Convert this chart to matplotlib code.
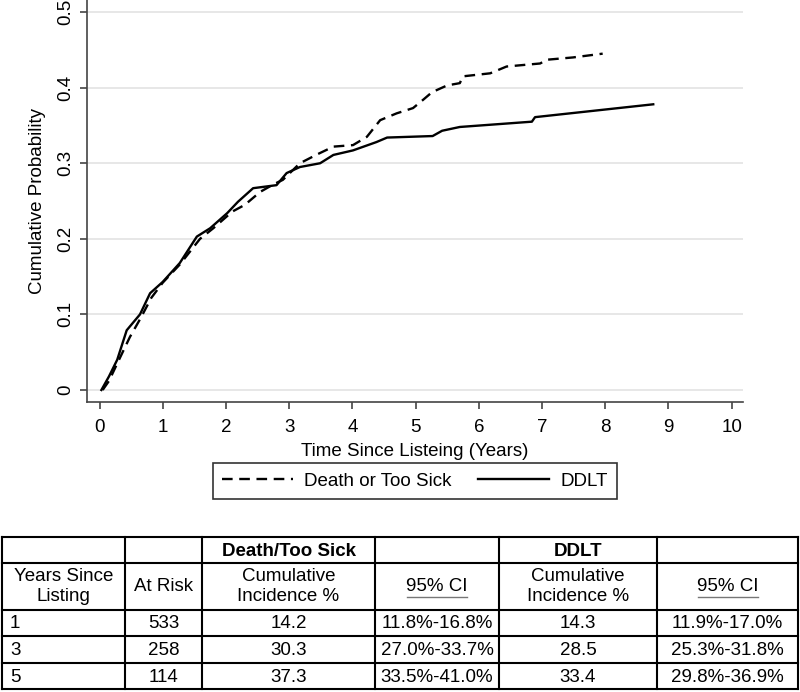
import numpy as np
import matplotlib.pyplot as plt

plt.rcParams['font.family'] = ['Liberation Sans', 'DejaVu Sans']

# cumulative incidence curves
t_death = [0.05, 0.15, 0.28, 0.48, 0.65, 0.82, 1.0, 1.27, 1.59, 1.8, 2.1, 2.3, 2.54, 2.75, 2.9,
           3.17, 3.45, 3.7, 4.01, 4.23, 4.44, 4.7, 4.96, 5.12, 5.26, 5.5, 5.7, 5.75, 6.18, 6.44,
           6.97, 7.08, 7.49, 7.96]
p_death = [0.0, 0.012, 0.035, 0.07, 0.095, 0.122, 0.142, 0.166, 0.2, 0.214, 0.236, 0.245, 0.262,
           0.272, 0.278, 0.3, 0.312, 0.322, 0.324, 0.335, 0.357, 0.366, 0.373, 0.384, 0.394,
           0.403, 0.406, 0.415, 0.419, 0.428, 0.432, 0.437, 0.44, 0.445]

t_ddlt = [0.03, 0.15, 0.28, 0.43, 0.64, 0.8, 1.0, 1.27, 1.54, 1.75, 2.02, 2.19, 2.43, 2.8, 2.96,
          3.17, 3.49, 3.7, 4.01, 4.38, 4.55, 5.27, 5.42, 5.7, 6.84, 6.89, 8.76]
p_ddlt = [0.0, 0.018, 0.04, 0.079, 0.10, 0.128, 0.143, 0.168, 0.203, 0.214, 0.234, 0.249, 0.267,
          0.271, 0.287, 0.295, 0.30, 0.311, 0.317, 0.328, 0.334, 0.336, 0.343, 0.348, 0.355,
          0.361, 0.378]

# table
col_headers1 = ['', '', 'Death/Too Sick', '', 'DDLT', '']
col_headers2 = ['Years Since\nListing', 'At Risk', 'Cumulative\nIncidence %', '95% CI',
                'Cumulative\nIncidence %', '95% CI']
years = ['1', '3', '5']
at_risk = ['533', '258', '114']
death_ci = ['14.2', '30.3', '37.3']
death_ci_range = ['11.8%-16.8%', '27.0%-33.7%', '33.5%-41.0%']
ddlt_ci = ['14.3', '28.5', '33.4']
ddlt_ci_range = ['11.9%-17.0%', '25.3%-31.8%', '29.8%-36.9%']

fs = 13.5

fig = plt.figure(figsize=(8, 6.92), dpi=100)
ax = fig.add_axes([87/800, 1 - 402/692, 656/800, 402/692])

ax.plot(t_death, p_death, color='black', lw=1.7, ls=(0, (4.5, 2.8)), label='Death or Too Sick')
ax.plot(t_ddlt, p_ddlt, color='black', lw=1.7, label='DDLT')

ax.set_xlim(-0.198, 10.18)
ax.set_ylim(-0.0159, 0.516)
ax.set_xticks(range(0, 11))
ax.set_yticks([0, 0.1, 0.2, 0.3, 0.4, 0.5])
ax.set_yticklabels(['0', '0.1', '0.2', '0.3', '0.4', '0.5'], rotation=90, va='center')
ax.yaxis.grid(True, color='#e3e3e3', lw=1.2)
ax.set_axisbelow(True)
ax.spines['top'].set_visible(False)
ax.spines['right'].set_visible(False)
for s in ['left', 'bottom']:
    ax.spines[s].set_color('#444444')
    ax.spines[s].set_linewidth(1.2)
ax.tick_params(direction='out', length=5, width=1.2, color='#444444', labelsize=fs)
ax.tick_params(axis='y', pad=4)
ax.tick_params(axis='x', pad=7)
ax.set_xlabel('Time Since Listeing (Years)', fontsize=fs, labelpad=5)
ax.set_ylabel('Cumulative Probability', fontsize=fs, labelpad=8)

leg = fig.legend(loc='center', bbox_to_anchor=(415/800, 1 - 481/692), ncol=2, fontsize=fs,
                 frameon=True, fancybox=False, edgecolor='#333333', framealpha=1,
                 handlelength=3.8, handletextpad=0.6, columnspacing=1.4, borderpad=0.5)
leg.get_frame().set_linewidth(1.2)

# table drawn in pixel coordinates
tax = fig.add_axes([0, 0, 1, 1])
tax.set_xlim(0, 800)
tax.set_ylim(692, 0)
tax.axis('off')
col_edges = [2, 125, 202, 375, 499, 657, 798]
row_edges = [537, 563, 610, 636, 663, 689]
for x in col_edges:
    tax.plot([x, x], [row_edges[0], row_edges[-1]], color='black', lw=1.5)
for y in row_edges:
    tax.plot([col_edges[0], col_edges[-1]], [y, y], color='black', lw=1.5)

centers = [(col_edges[i] + col_edges[i + 1]) / 2 for i in range(6)]
for i, txt in enumerate(col_headers1):
    if txt:
        tax.text(centers[i], (row_edges[0] + row_edges[1]) / 2 + 1, txt, ha='center', va='center',
                 fontsize=fs, fontweight='bold')
for i, txt in enumerate(col_headers2):
    tax.text(centers[i], (row_edges[1] + row_edges[2]) / 2, txt, ha='center', va='center',
             fontsize=fs, linespacing=1.2)
    if txt == '95% CI':
        tax.plot([centers[i] - 30, centers[i] + 30], [597, 597], color='#777777', lw=1)

rows = list(zip(years, at_risk, death_ci, death_ci_range, ddlt_ci, ddlt_ci_range))
for r, vals in enumerate(rows):
    yc = (row_edges[r + 2] + row_edges[r + 3]) / 2 + 1
    for i, v in enumerate(vals):
        if i == 0:
            tax.text(col_edges[0] + 8, yc, v, ha='left', va='center', fontsize=fs)
        else:
            tax.text(centers[i], yc, v, ha='center', va='center', fontsize=fs)

fig.savefig('out.png', dpi=100, facecolor='w')
